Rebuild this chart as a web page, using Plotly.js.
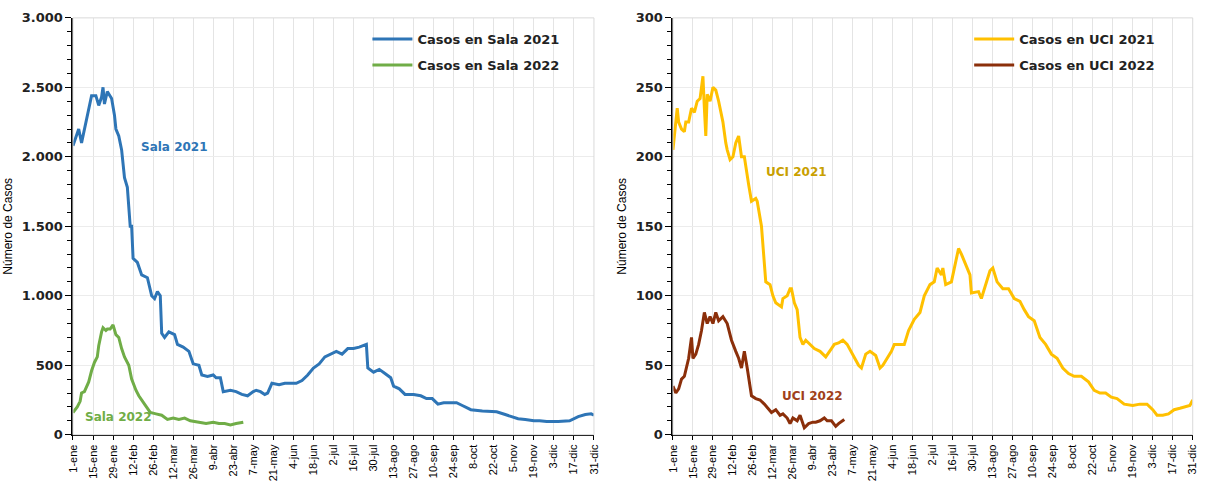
<!DOCTYPE html>
<html>
<head>
<meta charset="utf-8">
<script src="https://cdn.plot.ly/plotly-3.0.1.min.js"></script>
<style>body{margin:0;background:#fff}#chart{width:1206px;height:483px}</style>
</head>
<body>
<div id="chart"></div>
<script>
// day of year (1 = 1-ene)
var tickDays = [1,15,29,43,57,71,85,99,113,127,141,155,169,183,197,211,225,239,253,267,281,295,309,323,337,351,365];
var tickText = ['1-ene','15-ene','29-ene','12-feb','26-feb','12-mar','26-mar','9-abr','23-abr','7-may','21-may','4-jun','18-jun','2-jul','16-jul','30-jul','13-ago','27-ago','10-sep','24-sep','8-oct','22-oct','5-nov','19-nov','3-dic','17-dic','31-dic'];

var sala21Days = [1,4,5,7,9,12,14,17,19,21,22,23,25,28,30,31,33,35,37,39,41,42,43,46,49,53,56,58,60,62,63,65,68,72,74,78,82,85,89,91,95,99,101,104,106,111,115,119,123,127,129,132,135,137,140,145,149,153,157,161,165,169,173,177,181,185,189,193,197,201,206,207,211,215,219,223,225,229,233,239,244,248,252,256,260,264,269,273,279,287,292,297,303,308,312,317,323,327,332,340,348,354,359,363,365];
var sala21 = [2080,2180,2200,2100,2200,2350,2440,2440,2370,2430,2500,2380,2470,2420,2300,2200,2150,2050,1850,1780,1500,1500,1270,1240,1150,1130,1000,980,1030,1000,730,700,740,720,650,630,600,510,500,430,420,430,410,410,310,320,310,290,280,310,320,310,290,300,370,360,370,370,370,390,430,480,510,560,580,600,580,620,620,630,650,480,450,470,440,410,350,330,290,290,280,260,260,220,230,230,230,210,180,170,165,165,145,130,115,110,100,100,95,95,100,130,145,150,140];

var sala22Days = [1,4,6,7,9,12,14,16,18,19,21,22,24,25,27,29,31,33,35,37,40,42,45,47,51,55,59,63,67,71,75,79,83,89,94,99,103,107,111,115,120];
var sala22 = [160,200,240,300,310,380,460,520,560,640,740,770,750,760,760,790,720,700,620,560,500,400,320,280,220,160,150,140,110,120,110,120,100,90,80,90,80,80,70,80,90];

var uci21Days = [1,2,4,5,7,9,10,12,14,16,18,20,22,23,24,25,27,29,31,33,36,38,39,41,43,45,47,49,51,54,56,59,60,63,65,66,69,71,73,77,78,81,83,84,86,88,90,92,94,97,100,104,108,112,114,117,120,123,127,131,133,136,139,143,146,148,151,154,156,159,163,166,170,174,177,181,184,186,189,190,192,196,198,201,203,206,209,210,215,217,220,223,225,228,232,236,240,244,247,250,254,258,262,266,270,274,278,282,287,292,296,300,304,308,312,317,323,328,333,337,340,344,348,352,356,360,363,365];
var uci21 = [205,215,235,225,220,218,225,225,235,232,240,242,258,235,215,245,240,250,248,240,225,210,205,198,200,210,215,200,200,180,168,170,168,150,120,110,108,100,95,92,98,100,105,105,95,90,70,65,68,65,62,60,56,62,65,66,68,65,57,50,48,58,60,57,48,50,55,60,65,65,65,75,83,88,100,108,110,120,115,120,108,110,120,134,130,122,115,102,103,98,108,118,120,110,105,105,98,96,90,85,82,70,65,58,55,48,44,42,42,38,32,30,30,27,26,22,21,22,22,18,14,14,15,18,19,20,21,25];

var uci22Days = [1,3,5,7,9,12,14,15,17,19,21,23,25,27,29,31,33,36,39,42,45,47,49,50,51,53,54,56,59,62,65,68,70,73,76,78,81,83,85,88,90,93,96,99,101,104,107,109,112,115,117,121];
var uci22 = [35,30,33,40,42,55,70,55,58,65,75,88,80,85,80,88,82,85,80,68,60,55,48,55,60,48,40,28,26,25,22,18,16,18,14,15,12,8,12,10,14,5,8,9,9,10,12,10,10,6,8,11];

var cBlue = '#2e75b6', cGreen = '#70ad47', cGold = '#ffc000', cBrown = '#8b2f0a';
var lw = 3;

var traces = [
  {x: sala21Days, y: sala21, name: 'Casos en Sala 2021', legendgroup: 'a', mode: 'lines', line: {color: cBlue, width: lw}, xaxis: 'x', yaxis: 'y', legend: 'legend'},
  {x: sala22Days, y: sala22, name: 'Casos en Sala 2022', legendgroup: 'b', mode: 'lines', line: {color: cGreen, width: lw}, xaxis: 'x', yaxis: 'y', legend: 'legend'},
  {x: uci21Days, y: uci21, name: 'Casos en UCI 2021', legendgroup: 'c', mode: 'lines', line: {color: cGold, width: lw}, xaxis: 'x2', yaxis: 'y2', legend: 'legend2'},
  {x: uci22Days, y: uci22, name: 'Casos en UCI 2022', legendgroup: 'd', mode: 'lines', line: {color: cBrown, width: lw}, xaxis: 'x2', yaxis: 'y2', legend: 'legend2'}
];

var tickFontX = {family: 'Liberation Sans Narrow, Liberation Sans, sans-serif', size: 11, color: '#000'};
var tickFontY = {family: 'DejaVu Sans, sans-serif', size: 13, color: '#222', weight: 'bold'};

function xAxis(dom, anchor) {
  return {domain: dom, anchor: anchor, range: [1, 365], tickvals: tickDays, ticktext: tickText,
    tickangle: -90, tickfont: tickFontX, ticks: 'outside', ticklen: 4, tickcolor: '#000',
    showgrid: true, gridcolor: '#e4e4e4', showline: true, linecolor: '#000', linewidth: 1.5,
    mirror: false, zeroline: false};
}
function yAxis(dom, anchor, max, dt, minor) {
  return {domain: dom, anchor: anchor, range: [0, max], dtick: dt, tickformat: ',d',
    tickfont: tickFontY, ticks: 'outside', ticklen: 6, tickcolor: '#000',
    minor: {dtick: minor, ticks: 'outside', ticklen: 4, tickcolor: '#000', showgrid: false},
    showgrid: true, gridcolor: '#ececec', showline: true, linecolor: '#000', linewidth: 1.5,
    zeroline: false,
    title: {text: 'Número de Casos', font: {family: 'Liberation Sans Narrow, Liberation Sans, sans-serif', size: 12, color: '#000'}, standoff: 6}};
}

var yDom = [0.1, 0.963];
var legFont = {family: 'DejaVu Sans, sans-serif', size: 13, color: '#222', weight: 'bold'};

var layout = {
  width: 1206, height: 483,
  margin: {l: 0, r: 0, t: 0, b: 0},
  separators: ',.',
  paper_bgcolor: '#fff', plot_bgcolor: '#fff',
  xaxis: xAxis([0.0605, 0.4925], 'y'),
  yaxis: yAxis(yDom, 'x', 3000, 500, 100),
  xaxis2: xAxis([0.558, 0.989], 'y2'),
  yaxis2: yAxis(yDom, 'x2', 300, 50, 10),
  legend: {x: 0.468, y: 0.95, xanchor: 'right', yanchor: 'top', font: legFont, bgcolor: 'rgba(0,0,0,0)', traceorder: 'grouped', tracegroupgap: 6, itemwidth: 40},
  legend2: {x: 0.962, y: 0.95, xanchor: 'right', yanchor: 'top', font: legFont, bgcolor: 'rgba(0,0,0,0)', traceorder: 'grouped', tracegroupgap: 6, itemwidth: 40},
  shapes: [
    {type: 'rect', xref: 'paper', yref: 'paper', x0: 0.0605, x1: 0.4925, y0: yDom[0], y1: yDom[1], line: {color: '#d9d9d9', width: 1}},
    {type: 'rect', xref: 'paper', yref: 'paper', x0: 0.558, x1: 0.989, y0: yDom[0], y1: yDom[1], line: {color: '#d9d9d9', width: 1}}
  ],
  annotations: [
    {text: 'Sala 2021', x: 47, y: 2070, xref: 'x', yref: 'y', xanchor: 'left', showarrow: false, font: {family: 'DejaVu Sans, sans-serif', size: 12, color: cBlue, weight: 'bold'}},
    {text: 'Sala 2022', x: 8, y: 130, xref: 'x', yref: 'y', xanchor: 'left', showarrow: false, font: {family: 'DejaVu Sans, sans-serif', size: 12, color: cGreen, weight: 'bold'}},
    {text: 'UCI 2021', x: 65, y: 189, xref: 'x2', yref: 'y2', xanchor: 'left', showarrow: false, font: {family: 'DejaVu Sans, sans-serif', size: 12, color: '#c9a000', weight: 'bold'}},
    {text: 'UCI 2022', x: 76, y: 28, xref: 'x2', yref: 'y2', xanchor: 'left', showarrow: false, font: {family: 'DejaVu Sans, sans-serif', size: 12, color: '#a0401a', weight: 'bold'}}
  ]
};

Plotly.newPlot('chart', traces, layout, {displayModeBar: false, staticPlot: true});
</script>
</body>
</html>
